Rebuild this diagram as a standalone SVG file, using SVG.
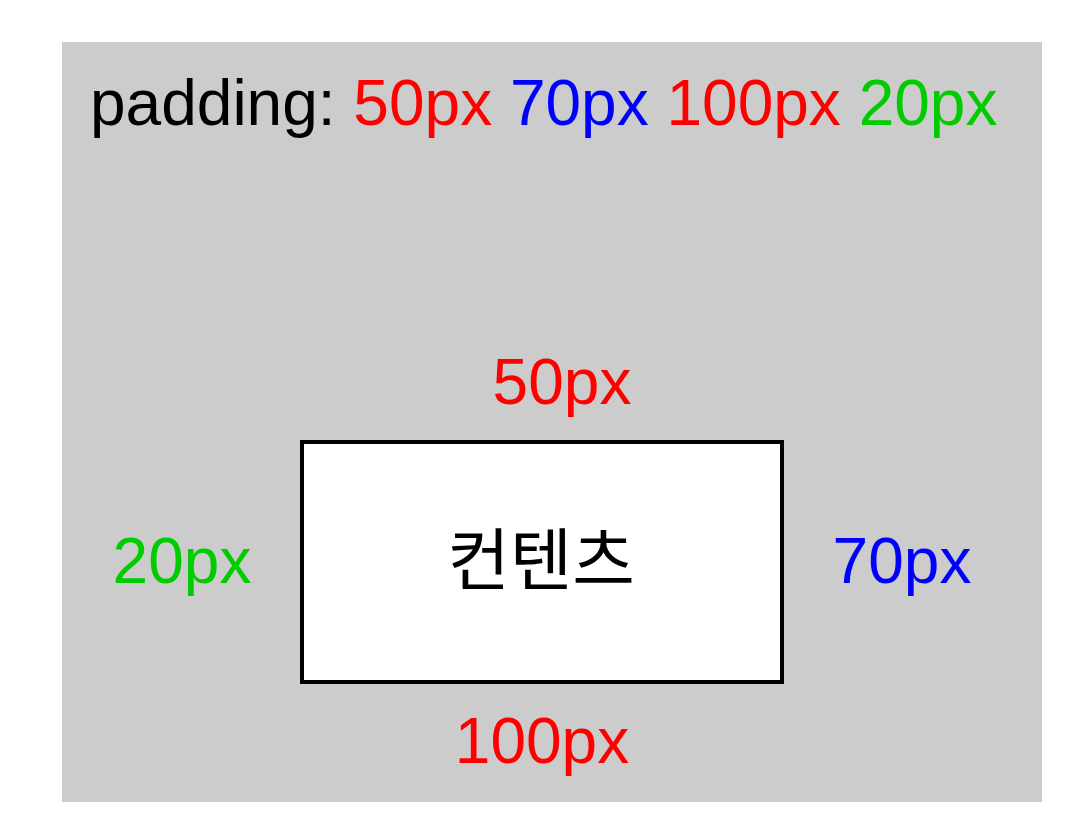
<svg xmlns="http://www.w3.org/2000/svg" width="1080" height="840" viewBox="0 0 1080 840">
<style>
text{font-family:"Liberation Sans",Arial,"Noto Sans CJK KR",sans-serif;font-size:64px}
.r{fill:#ff0000}.b{fill:#0000ff}.g{fill:#00cc00}.k{fill:#000000}
.m{text-anchor:middle}
</style>
<rect width="1080" height="840" fill="#ffffff"/>
<g id="padding-area">
<rect x="62" y="42" width="980" height="760" fill="#cccccc"/>
<text x="90" y="125" class="k">padding: <tspan class="r">50px</tspan> <tspan class="b">70px</tspan> <tspan class="r">100px</tspan> <tspan class="g">20px</tspan></text>
</g>
<g id="content">
<rect x="302" y="442" width="480" height="240" fill="#ffffff" stroke="#000000" stroke-width="4"/>
<text x="541" y="585" class="k m" style="font-family:'Noto Sans CJK KR',sans-serif;font-size:68px">컨텐츠</text>
</g>
<g id="labels">
<text x="562" y="404" class="r m">50px</text>
<text x="182" y="583" class="g m">20px</text>
<text x="902" y="583" class="b m">70px</text>
<text x="542" y="763" class="r m">100px</text>
</g>
</svg>
